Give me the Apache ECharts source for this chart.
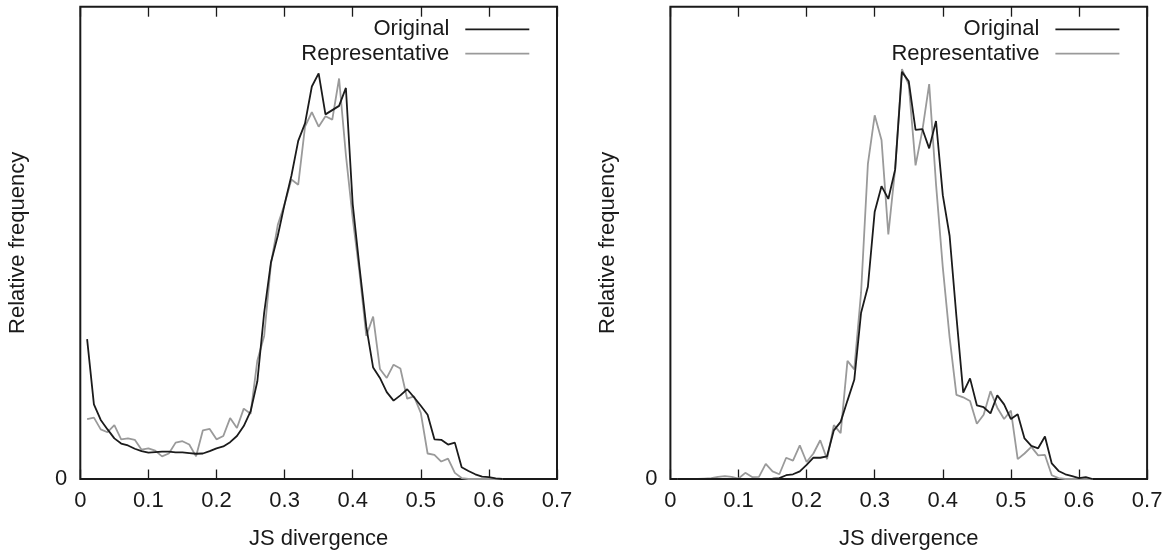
<!DOCTYPE html>
<html>
<head>
<meta charset="utf-8">
<script src="https://cdn.jsdelivr.net/npm/echarts@6/dist/echarts.min.js"></script>
<style>
    html, body { margin: 0; padding: 0; background: #fff; }
    #chart { width: 1169px; height: 555px; }
</style>
</head>
<body>
<div id="chart"></div>
<script>
    // bin centres 0.01 .. 0.62
    var bins = [0.01,0.02,0.03,0.04,0.05,0.06,0.07,0.08,0.09,0.10,
                0.11,0.12,0.13,0.14,0.15,0.16,0.17,0.18,0.19,0.20,
                0.21,0.22,0.23,0.24,0.25,0.26,0.27,0.28,0.29,0.30,
                0.31,0.32,0.33,0.34,0.35,0.36,0.37,0.38,0.39,0.40,
                0.41,0.42,0.43,0.44,0.45,0.46,0.47,0.48,0.49,0.50,
                0.51,0.52,0.53,0.54,0.55,0.56,0.57,0.58,0.59,0.60,
                0.61,0.62];
    var xTicks = [0, 0.1, 0.2, 0.3, 0.4, 0.5, 0.6, 0.7];

    // left panel
    var leftOriginal = [29.6,15.8,12.5,10.5,8.6,7.5,7.1,6.4,5.9,5.6,
                        5.7,5.8,5.8,5.65,5.65,5.5,5.35,5.4,5.9,6.5,
                        6.9,7.8,9.1,11.2,14.3,20.7,35.2,45.9,51.5,58.2,
                        64.2,71.6,75.3,83.1,85.9,77.2,78.1,79.0,82.8,58.2,
                        44.8,32.2,23.6,21.4,18.4,16.6,17.7,19.0,17.3,15.5,
                        13.6,8.4,8.3,7.3,7.7,2.5,1.7,1.0,0.5,0.4,
                        0.15,0];
    var leftRepresentative = [12.7,13.0,10.5,9.9,11.4,8.4,8.6,8.3,6.2,6.5,
                              6.0,4.8,5.4,7.7,8.0,7.3,4.8,10.3,10.6,8.4,
                              9.1,12.9,10.8,14.9,13.8,25.1,30.3,45.6,53.8,58.2,
                              63.4,62.3,74.6,77.7,74.6,76.8,76.1,84.8,68.6,55.2,
                              43.7,30.3,34.4,23.3,21.4,24.2,23.4,17.0,17.5,14.0,
                              5.4,5.1,3.7,4.3,1.3,0.2,0,0,0,0,
                              0,0];

    // right panel
    var rightOriginal = [0,0,0,0,0,0,0,0,0,0,
                         0,0,0,0,0.05,0.2,0.8,1.0,1.6,3.0,
                         4.5,4.5,4.8,10.3,12.1,16.6,21.0,35.2,40.7,56.6,
                         62.0,59.3,65.5,86.2,84.2,73.9,74.1,70.0,75.8,60.1,
                         51.5,34.4,18.3,21.3,15.6,15.2,13.9,17.7,15.8,12.7,
                         13.7,8.6,7.0,6.5,9.0,3.3,1.7,1.0,0.6,0.2,
                         0.4,0];
    var rightRepresentative = [0,0,0,0,0.1,0.2,0.45,0.6,0.45,0.1,
                               1.3,0.4,0.45,3.2,1.6,1.0,4.5,3.9,7.1,3.6,
                               5.4,8.2,4.2,11.4,9.7,25.0,23.2,39.5,66.7,77.0,
                               71.8,51.8,65.6,86.8,83.5,66.4,73.8,83.6,62.5,44.8,
                               30.0,17.8,17.3,16.5,11.7,13.6,18.6,15.1,12.7,14.5,
                               4.2,5.4,6.8,5.0,5.1,0.8,0.2,0,0,0,
                               0,0];

    function pairs(xs, ys) {
        return xs.map(function (x, i) { return [x, ys[i]]; });
    }

    var font = 'Liberation Sans, Arial, Helvetica, sans-serif';
    var ink = '#1a1a1a';
    var fs = 22;

    function bottomAxis(g) {
        return {
            type: 'value', gridIndex: g, min: 0, max: 0.7, interval: 0.1,
            name: 'JS divergence', nameLocation: 'middle', nameGap: 49,
            nameTextStyle: { fontFamily: font, fontSize: fs, color: ink },
            axisLine: { show: false },
            axisTick: { inside: true, length: 9.5, lineStyle: { color: ink, width: 1.3 } },
            axisLabel: {
                margin: 11, fontFamily: font, fontSize: fs, color: ink,
                formatter: function (v) {
                    var i = xTicks.findIndex(function (t) { return Math.abs(t - v) < 1e-6; });
                    return i >= 0 ? String(xTicks[i]) : '';
                }
            },
            splitLine: { show: false }
        };
    }
    function topAxis(g) {
        return {
            type: 'value', gridIndex: g, position: 'top', min: 0, max: 0.7, interval: 0.1,
            axisLine: { show: false },
            axisTick: { inside: true, length: 10, lineStyle: { color: ink, width: 1.3 } },
            axisLabel: { show: false },
            splitLine: { show: false }
        };
    }
    function leftAxis(g) {
        return {
            type: 'value', gridIndex: g, min: 0, max: 100, interval: 100,
            name: 'Relative frequency', nameLocation: 'middle', nameGap: 51,
            nameTextStyle: { fontFamily: font, fontSize: fs, color: ink },
            axisLine: { show: false },
            axisTick: { show: false },
            axisLabel: {
                margin: 13, fontFamily: font, fontSize: fs, color: ink,
                formatter: function (v) { return v === 0 ? '0' : ''; }
            },
            splitLine: { show: false }
        };
    }
    function legend(right) {
        return {
            orient: 'vertical', right: right, top: 18.3, align: 'right', padding: 0,
            itemWidth: 64, itemHeight: 12, itemGap: 2.4,
            icon: 'path://M0,5.5L64,5.5L64,7.3L0,7.3Z',
            textStyle: { fontFamily: font, fontSize: fs, color: ink, padding: [0, 11, 0, 0] },
            selectedMode: false,
            data: [
                { name: 'Original', itemStyle: { color: '#1b1b1b' } },
                { name: 'Representative', itemStyle: { color: '#9a9a9a' } }
            ]
        };
    }
    function line(name, g, data, color, width) {
        return {
            name: name, type: 'line', xAxisIndex: g, yAxisIndex: g,
            data: data, symbol: 'none', smooth: false, animation: false,
            lineStyle: { color: color, width: width }, itemStyle: { color: color }
        };
    }

    var myChart = echarts.init(document.getElementById('chart'));
    var option = {
        backgroundColor: '#fff',
        animation: false,
        grid: [
            { left: 80.3, top: 6.7, width: 476.7, height: 476, show: true, borderColor: ink, borderWidth: 2 },
            { left: 670.4, top: 6.7, width: 476.7, height: 476, show: true, borderColor: ink, borderWidth: 2 }
        ],
        legend: [legend(639.7), legend(49.6)],
        xAxis: [bottomAxis(0), bottomAxis(1), topAxis(0), topAxis(1)],
        yAxis: [leftAxis(0), leftAxis(1)],
        series: [
            line('Representative', 0, pairs(bins, leftRepresentative), '#9a9a9a', 1.8),
            line('Original', 0, pairs(bins, leftOriginal), '#1b1b1b', 1.8),
            line('Representative', 1, pairs(bins, rightRepresentative), '#9a9a9a', 1.8),
            line('Original', 1, pairs(bins, rightOriginal), '#1b1b1b', 1.8)
        ]
    };
    myChart.setOption(option);
</script>
</body>
</html>
